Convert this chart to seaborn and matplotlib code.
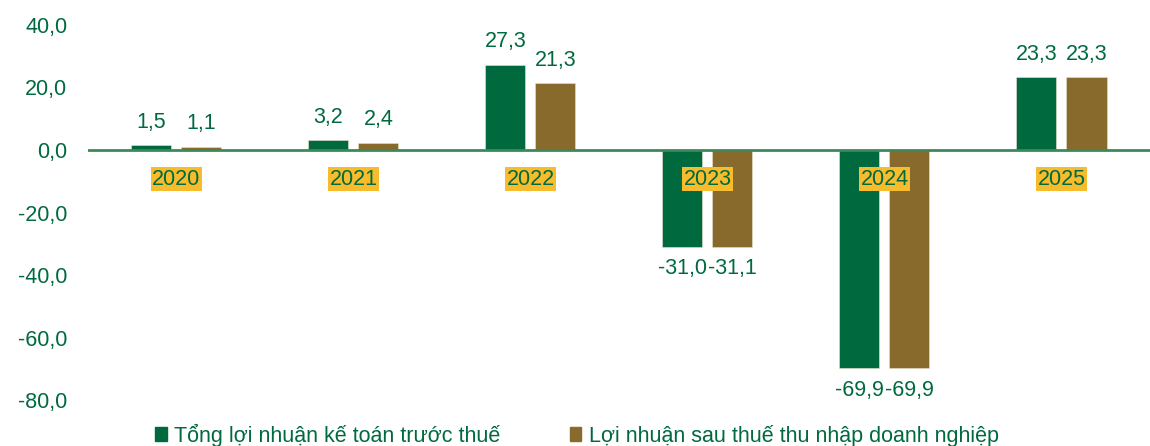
import matplotlib
matplotlib.use("Agg")
import matplotlib.pyplot as plt
import seaborn as sns
import pandas as pd
from matplotlib.patches import Patch

years = ["2020", "2021", "2022", "2023", "2024", "2025"]
series_names = ["Tổng lợi nhuận kế toán trước thuế",
                "Lợi nhuận sau thuế thu nhập doanh nghiệp"]
pre_tax = [1.5, 3.2, 27.3, -31.0, -69.9, 23.3]
after_tax = [1.1, 2.4, 21.3, -31.1, -69.9, 23.3]
y_ticks = [40, 20, 0, -20, -40, -60, -80]

GREEN = "#006A3E"
BROWN = "#876A2C"
YELLOW = "#F6BC2E"


def fmt(v):
    return f"{v:.1f}".replace(".", ",")


df = pd.DataFrame({
    "year": years * 2,
    "value": pre_tax + after_tax,
    "series": [series_names[0]] * len(years) + [series_names[1]] * len(years),
})

sns.set_style("white")
plt.rcParams["font.family"] = ["Liberation Sans", "DejaVu Sans"]

fig = plt.figure(figsize=(11.5, 4.46), dpi=100)
ax = fig.add_axes([0.0765, 0.103, 0.9235, 0.841])

sns.barplot(data=df, x="year", y="value", hue="series", order=years,
            hue_order=series_names, palette=[GREEN, BROWN],
            width=0.565, gap=0.2, ax=ax, legend=False,
            edgecolor="#E8E2D0", linewidth=0.4, saturation=1)

ax.set_ylim(-80, 40)
ax.set_xlim(-0.5, len(years) - 0.5)
ax.set_yticks(y_ticks)
ax.set_yticklabels([fmt(t) for t in y_ticks])
ax.tick_params(axis="y", colors=GREEN, labelsize=15.5, length=0, pad=15)
ax.set_xticks([])
ax.set_xlabel("")
ax.set_ylabel("")
for s in ax.spines.values():
    s.set_visible(False)
ax.axhline(0, color="#3A8A5A", lw=2, zorder=1)

# value labels
for cont in ax.containers:
    for bar in cont:
        h = bar.get_height()
        x = bar.get_x() + bar.get_width() / 2
        if h >= 0:
            ax.annotate(fmt(h), (x, h), xytext=(0, 9), textcoords="offset points",
                        ha="center", va="bottom", color=GREEN, fontsize=15.5)
        else:
            ax.annotate(fmt(h), (x, h), xytext=(0, -8), textcoords="offset points",
                        ha="center", va="top", color=GREEN, fontsize=15.5)

# year labels under the zero line
for i, y in enumerate(years):
    ax.annotate(y, (i, 0), xytext=(0, -21), textcoords="offset points",
                ha="center", va="center", color=GREEN, fontsize=15.5, zorder=5,
                bbox=dict(boxstyle="square,pad=0.08", fc=YELLOW, ec="none"))

handles = [Patch(color=GREEN), Patch(color=BROWN)]
fig.legend(handles, series_names, loc="lower left", bbox_to_anchor=(0.118, -0.045),
           ncol=2, frameon=False, fontsize=15.5, labelcolor=GREEN,
           handlelength=0.55, handleheight=0.6, handletextpad=0.35,
           columnspacing=3.2)

fig.savefig("out.png", dpi=100)
